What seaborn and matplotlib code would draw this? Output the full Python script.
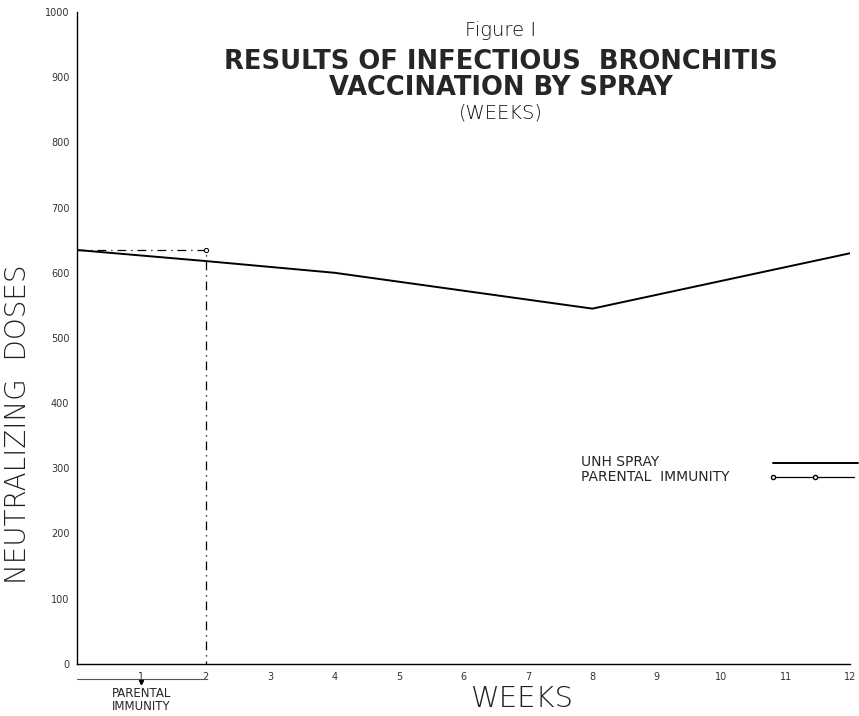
import matplotlib
matplotlib.use("Agg")
import matplotlib.pyplot as plt
import seaborn as sns

# Values
weeks = [0, 2, 4, 8, 12]
unh_spray = [635, 618, 600, 545, 630]
parental_weeks = [0, 2, 2]
parental_immunity = [635, 635, 0]

x_ticks = list(range(1, 13))
y_ticks = list(range(0, 1001, 100))

sns.set_style("white")
plt.rcParams['font.family'] = ['DejaVu Sans']

fig = plt.figure(figsize=(8.59, 7.16), dpi=100)
ax = fig.add_axes([0.0896, 0.073, 0.900, 0.910])

dashdot = (0, (7, 4, 1, 4))
sns.lineplot(x=weeks, y=unh_spray, color="black", linewidth=1.4, ax=ax)
sns.lineplot(x=parental_weeks, y=parental_immunity, sort=False, estimator=None,
             color="black", linewidth=0.9, linestyle=dashdot,
             marker="o", markersize=3, markevery=[1], markerfacecolor="white",
             markeredgecolor="black", ax=ax)

ax.set_xlim(0, 12)
ax.set_ylim(0, 1000)
ax.set_xticks(x_ticks)
ax.set_yticks(y_ticks)
ax.tick_params(axis="both", labelsize=7, length=2, width=0.6, colors="#333333")
ax.tick_params(axis="x", length=0, pad=6)
for side in ["top", "right"]:
    ax.spines[side].set_visible(False)
for side in ["left", "bottom"]:
    ax.spines[side].set_linewidth(1.0)
    ax.spines[side].set_color("black")

ax.set_ylabel("NEUTRALIZING  DOSES", fontsize=20, fontweight="light",
              color="#222222")
ax.yaxis.set_label_coords(-0.058, 0.367)
ax.set_xlabel("WEEKS", fontsize=21, fontweight="light", color="#222222")
ax.xaxis.set_label_coords(0.576, -0.032)

# Title block drawn inside the plot area
ax.text(0.548, 0.972, "Figure I", transform=ax.transAxes, ha="center",
        va="center", fontsize=14, fontweight="light", color="#111111")
ax.text(0.548, 0.923, "RESULTS OF INFECTIOUS  BRONCHITIS", transform=ax.transAxes,
        ha="center", va="center", fontsize=18.5, fontweight="bold")
ax.text(0.548, 0.883, "VACCINATION BY SPRAY", transform=ax.transAxes,
        ha="center", va="center", fontsize=18.5, fontweight="bold")
ax.text(0.548, 0.845, "(WEEKS)", transform=ax.transAxes, ha="center",
        va="center", fontsize=14, fontweight="light", color="#111111")

# Bracket under the axis marking the parental immunity period
trans = ax.get_xaxis_transform()
ax.plot([0, 2], [-0.024, -0.024], transform=trans, color="#555555",
        linewidth=0.8, clip_on=False)
ax.plot([1], [-0.028], transform=trans, marker="v", markersize=3,
        color="black", clip_on=False)
ax.text(1, -0.056, "PARENTAL\nIMMUNITY", transform=trans, ha="center",
        va="center", fontsize=8.5, linespacing=0.95)

# Key: labels on the left, line samples on the right
ax.text(0.652, 0.31, "UNH SPRAY", transform=ax.transAxes, ha="left",
        va="center", fontsize=10)
ax.text(0.652, 0.287, "PARENTAL  IMMUNITY", transform=ax.transAxes, ha="left",
        va="center", fontsize=10)
ax.plot([0.900, 1.01], [0.308, 0.308], transform=ax.transAxes, color="black",
        linewidth=1.4, clip_on=False)
ax.plot([0.900, 0.955, 1.005], [0.287, 0.287, 0.287], transform=ax.transAxes,
        color="black", linewidth=0.9, marker="o", markersize=3,
        markevery=[0, 1], markerfacecolor="white", markeredgecolor="black",
        clip_on=False)

fig.savefig("out.png", dpi=100)
